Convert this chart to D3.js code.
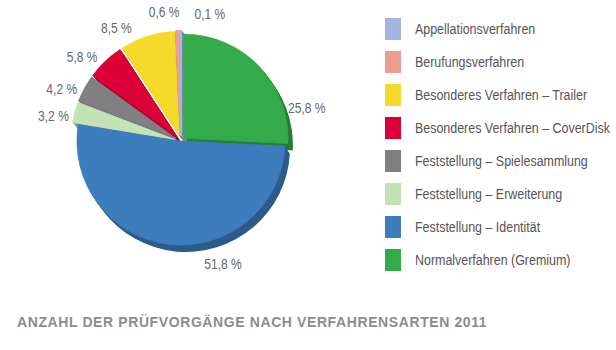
<!DOCTYPE html>
<html>
<head>
<meta charset="utf-8">
<script src="https://cdn.jsdelivr.net/npm/d3@7"></script>
<style>
  body { margin: 0; background: #fff; }
  svg { display: block; }
  .pct { font-family: "Liberation Sans", Arial, sans-serif; font-size: 14.5px; fill: #666; }
  .leg { font-family: "Liberation Sans", Arial, sans-serif; font-size: 15px; fill: #555; }
  .title { font-family: "Liberation Sans", Arial, sans-serif; font-size: 14px; font-weight: bold; fill: #8c8c8c; letter-spacing: 0.6px; }
</style>
</head>
<body>
<div id="chart"></div>
<script>
// legend order (top to bottom)
const categories = [
  "Appellationsverfahren",
  "Berufungsverfahren",
  "Besonderes Verfahren – Trailer",
  "Besonderes Verfahren – CoverDisk",
  "Feststellung – Spielesammlung",
  "Feststellung – Erweiterung",
  "Feststellung – Identität",
  "Normalverfahren (Gremium)"
];
const shares = [0.1, 0.6, 8.5, 5.8, 4.2, 3.2, 51.8, 25.8];
const colors = ["#a3b7dd", "#ee9d93", "#f5d92b", "#dc0038", "#808083", "#c3e2b7", "#3d7cbd", "#33ab4a"];
const title = "ANZAHL DER PRÜFVORGÄNGE NACH VERFAHRENSARTEN 2011";

// label nudges (degrees, relative to slice middle) to keep small labels apart
const labelShift = [13, -6, -12, -6, -5, -4, -25, 29];

const width = 616, height = 350;
const cx = 181, cy = 141, r = 104;
const depth = [5, 7];
const narrow = 0.83; // condensed look for the labels

const svg = d3.select("#chart").append("svg")
    .attr("width", width)
    .attr("height", height);

// pie goes clockwise from 12 o'clock in reverse legend order
const rows = categories.map((c, i) => ({name: c, value: shares[i], color: colors[i], shift: labelShift[i]}));
const pie = d3.pie().sort(null).value(d => d.value);
const arcs = pie(rows.slice().reverse());

const arc = d3.arc().innerRadius(0).outerRadius(r);

function offset(d) {
  const e = d.data.value > 50 ? 0 : d.data.value > 20 ? 4 : 6;
  const a = (d.startAngle + d.endAngle) / 2;
  return [Math.sin(a) * e, -Math.cos(a) * e];
}
// tiny slices get a thicker outline so they stay visible
const edge = d => d.data.value < 1 ? 2.2 : 0.8;

const g = svg.append("g").attr("transform", `translate(${cx},${cy})`);

// side (3d edge): sweep each slice along the depth vector
const steps = d3.range(1, 9).map(i => i / 8);
arcs.forEach(d => {
  const o = offset(d);
  const side = d3.color(d.data.color).darker(0.9);
  g.selectAll(null)
    .data(steps)
    .join("path")
      .attr("d", arc(d))
      .attr("fill", side)
      .attr("stroke", d.data.value < 1 ? side : "none")
      .attr("stroke-width", edge(d))
      .attr("stroke-linejoin", "round")
      .attr("transform", t => `translate(${o[0] + depth[0] * t},${o[1] + depth[1] * t})`);
});

// top faces
g.selectAll("path.top")
  .data(arcs)
  .join("path")
    .attr("class", "top")
    .attr("d", arc)
    .attr("fill", d => d.data.color)
    .attr("stroke", d => d.data.color)
    .attr("stroke-width", edge)
    .attr("stroke-linejoin", "round")
    .attr("transform", d => `translate(${offset(d)})`);

// percentage labels
const labelR = r + 26;
g.selectAll("text.pct")
  .data(arcs)
  .join("text")
    .attr("class", "pct")
    .attr("text-anchor", "middle")
    .attr("dominant-baseline", "central")
    .attr("transform", d => {
      const a = (d.startAngle + d.endAngle) / 2 + d.data.shift * Math.PI / 180;
      return `translate(${Math.sin(a) * labelR},${-Math.cos(a) * labelR}) scale(${narrow},1)`;
    })
    .text(d => d3.format(".1f")(d.data.value).replace(".", ",") + " %");

// legend
const y = d3.scaleBand().domain(categories).range([18, 282]);
const legend = svg.append("g").attr("transform", "translate(385,0)");
const item = legend.selectAll("g")
  .data(rows)
  .join("g")
    .attr("transform", d => `translate(0,${y(d.name)})`);
item.append("rect")
    .attr("width", 16)
    .attr("height", 22)
    .attr("fill", d => d.color);
item.append("text")
    .attr("class", "leg")
    .attr("transform", `translate(30,11) scale(${narrow},1)`)
    .attr("dominant-baseline", "central")
    .text(d => d.name);

svg.append("text")
    .attr("class", "title")
    .attr("x", 17)
    .attr("y", 327)
    .text(title);
</script>
</body>
</html>
